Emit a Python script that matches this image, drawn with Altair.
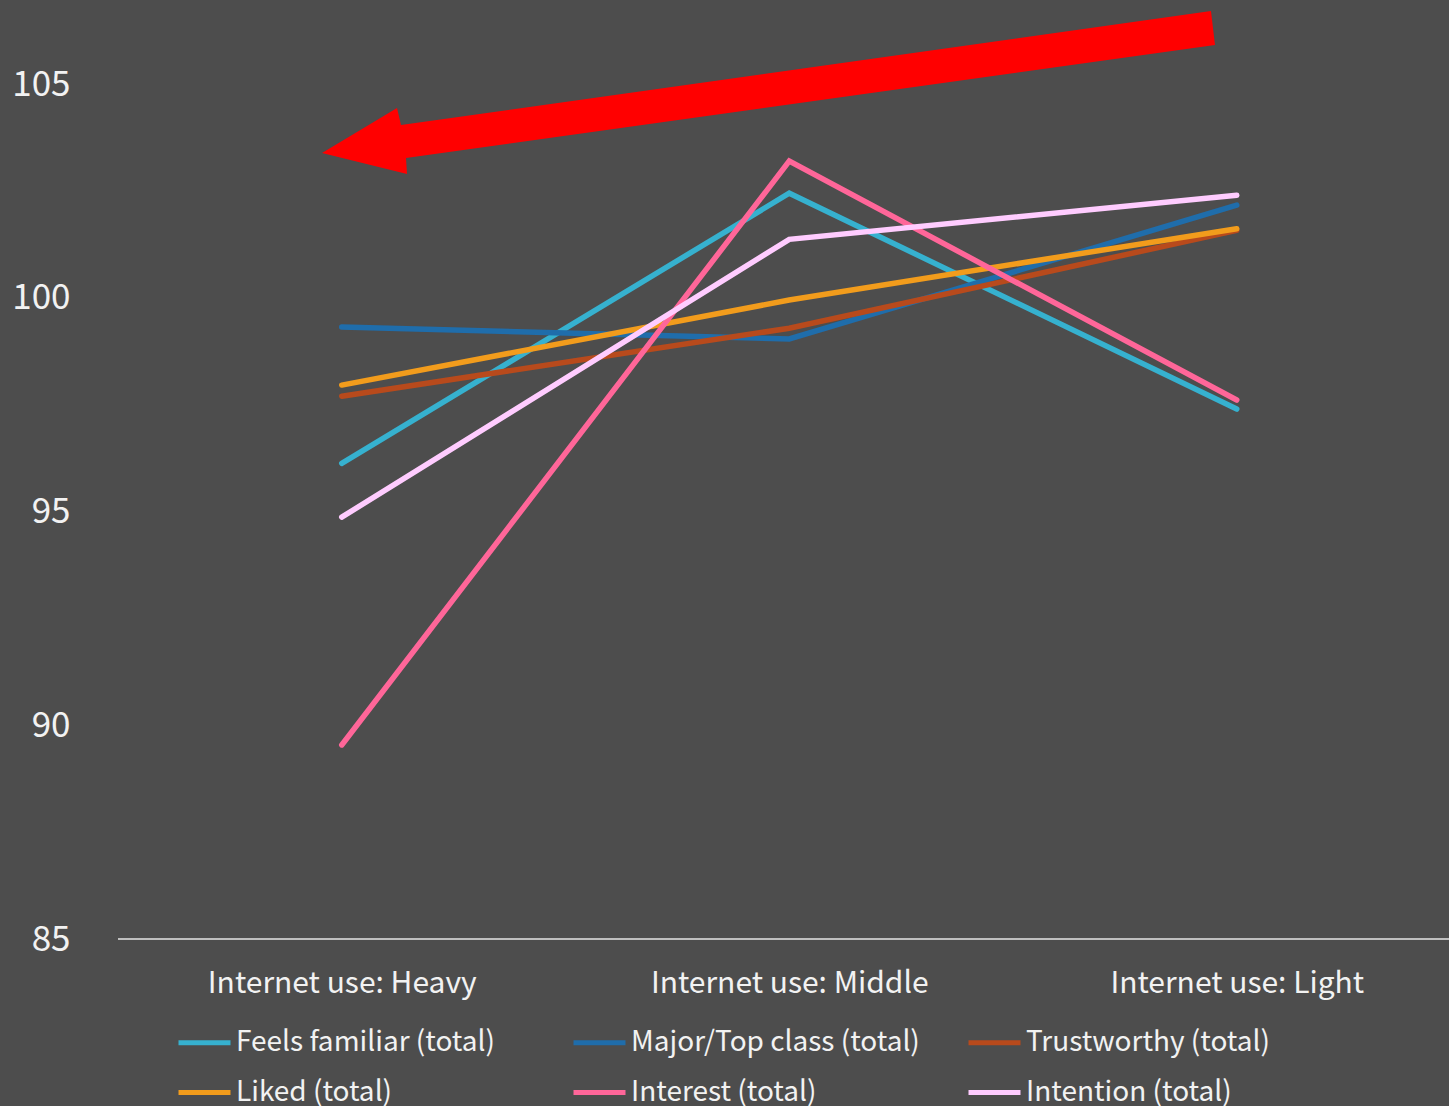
import altair as alt
import pandas as pd

categories = ["Internet use: Heavy", "Internet use: Middle", "Internet use: Light"]
series = ["Feels familiar (total)", "Major/Top class (total)", "Trustworthy (total)",
          "Liked (total)", "Interest (total)", "Intention (total)"]
familiar = [96.13, 102.45, 97.40]
major = [99.32, 99.04, 102.17]
trust = [97.70, 99.29, 101.58]
liked = [97.96, 99.95, 101.62]
interest = [89.54, 103.20, 97.61]
intention = [94.87, 101.37, 102.40]
colors = ["#36b1cf", "#1f6dab", "#b84a1c", "#f29c1c", "#ff6699", "#ffccff"]
y_ticks = [85, 90, 95, 100, 105]

all_vals = [familiar, major, trust, liked, interest, intention]
rows = []
for si, (name, vals) in enumerate(zip(series, all_vals)):
    for ci, (cat, v) in enumerate(zip(categories, vals)):
        rows.append({"series": name, "cat": cat, "value": v, "s": si, "c": ci})
df = pd.DataFrame(rows)

FONT = "Noto Sans CJK JP"
W, H = 1331, 939

# arrow outline (normalized custom symbol path)
arrow_path = ("M 0.991 -0.1825 L 1 -0.1064 L -0.8119 0.1467 L -0.8096 0.1825 "
              "L -1 0.1355 L -0.832 0.0347 L -0.8231 0.0728 Z")

lines = alt.Chart(df).mark_line(strokeWidth=5.5, strokeCap="round", strokeJoin="miter").encode(
    x=alt.X("cat:N", sort=categories,
            scale=alt.Scale(type="point", range=[223.75, 1118.75], padding=0),
            axis=alt.Axis(title=None, domain=False, ticks=False, grid=False,
                          labelFont=FONT, labelFontSize=30, labelColor="#f2f2f2",
                          labelPadding=29, labelAngle=0, labelLimit=0)),
    y=alt.Y("value:Q",
            scale=alt.Scale(domain=[85, 106.97], nice=False, zero=False),
            axis=alt.Axis(title=None, domain=False, ticks=False, tickSize=0, grid=False,
                          values=y_ticks, labelFont=FONT, labelFontSize=35,
                          labelColor="#f2f2f2", labelPadding=48)),
    color=alt.Color("series:N", sort=series,
                    scale=alt.Scale(domain=series, range=colors),
                    legend=alt.Legend(title=None, orient="none", legendX=58, legendY=1014,
                                      direction="horizontal", columns=3, gridAlign="all",
                                      columnPadding=38, rowPadding=7,
                                      symbolType="stroke", symbolSize=2704,
                                      symbolStrokeWidth=5, labelOffset=3,
                                      labelFont=FONT, labelFontSize=28,
                                      labelColor="#f2f2f2", labelLimit=0)),
    detail="series:N",
    order="c:Q",
)

baseline = alt.Chart(pd.DataFrame({"v": [85]})).mark_rule(color="#e6e6e6", strokeWidth=1.5).encode(
    y="v:Q", x=alt.value(0), x2=alt.value(W)
)

arrow = alt.Chart(pd.DataFrame({"a": [0]})).mark_point(
    shape=arrow_path, size=797449, filled=True, color="#ff0000", opacity=1, strokeWidth=0
).encode(x=alt.value(768.5 - 118), y=alt.value(92.5))

chart = alt.layer(baseline, lines, arrow).properties(
    width=W, height=H, background="#4d4d4d",
    autosize=alt.AutoSizeParams(type="none"),
    padding={"left": 118, "top": 0, "right": 0, "bottom": 167},
).configure_view(strokeWidth=0)

chart.save("out.html", embed_options={"renderer": "svg", "actions": False})
